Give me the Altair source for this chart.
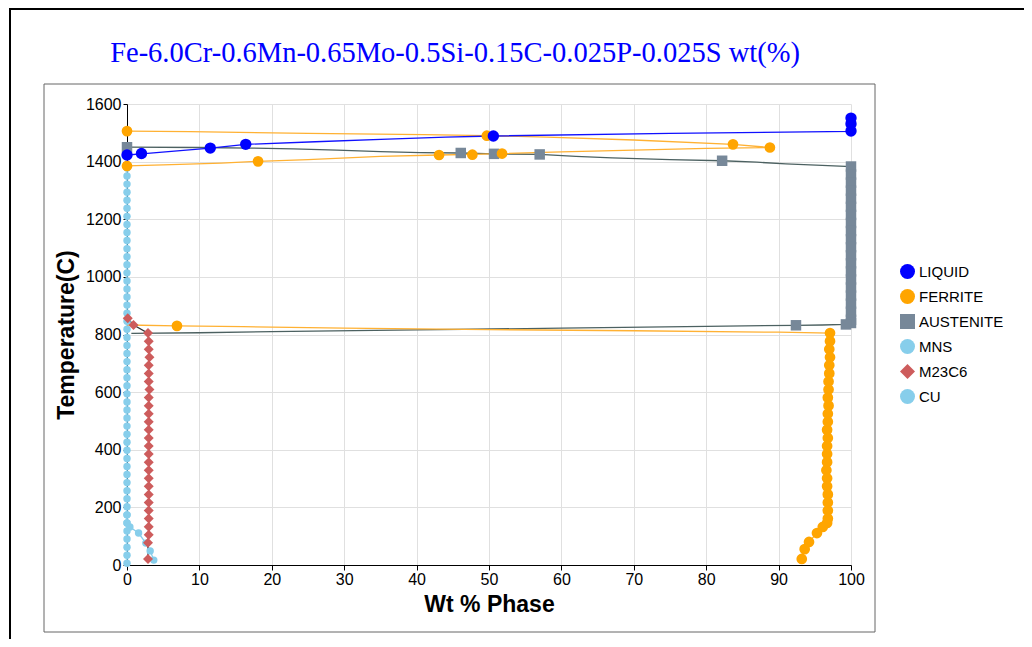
import altair as alt
import pandas as pd

TITLE = "Fe-6.0Cr-0.6Mn-0.65Mo-0.5Si-0.15C-0.025P-0.025S wt(%)"
X_TITLE = "Wt % Phase"
Y_TITLE = "Temperature(C)"

PHASES = ["LIQUID", "FERRITE", "AUSTENITE", "MNS", "M23C6", "CU"]
MARKER_COLORS = ["#0000FF", "#FFA500", "#778899", "#87CEEB", "#CD5C5C", "#87CEEB"]
MARKER_SHAPES = ["circle", "circle", "square", "circle", "diamond", "circle"]
LINE_COLORS = {"LIQUID": "#1010FF", "FERRITE": "#FFB133", "AUSTENITE": "#4C6161",
               "MNS": "#87CEEB", "M23C6": "#333333", "CU": "#87CEEB"}
MARKER_SIZES = {"LIQUID": 130, "FERRITE": 115, "AUSTENITE": 110,
                "MNS": 55, "M23C6": 100, "CU": 55}

X_TICKS = [0, 5, 10, 15, 20, 25, 30, 35, 40, 45, 50, 55, 60, 65, 70, 75, 80, 85, 90, 95, 100]
Y_TICKS = [0, 100, 200, 300, 400, 500, 600, 700, 800, 900, 1000, 1100, 1200,
           1300, 1400, 1500, 1600]

# ---------------- LIQUID ----------------
LIQ_X = [100, 100, 100, 75, 50.6, 44, 36, 26, 16.4, 11.5, 2.0, 0]
LIQ_T = [1551, 1531, 1505, 1498, 1489, 1485, 1478, 1469, 1460, 1447, 1427, 1423]
LIQ_MX = [100, 100, 100, 50.6, 16.4, 11.5, 2.0, 0]
LIQ_MT = [1551, 1531, 1506, 1489, 1460, 1447, 1428, 1423]

# ---------------- FERRITE ----------------
FER_A_X = [0, 8.7, 25, 41, 49.7, 58, 70, 83.7, 88.8, 80, 70, 60, 51.8, 47.7, 43.1,
           35, 25, 18.1, 13, 5, 0]
FER_A_T = [1506, 1504, 1498, 1494, 1490, 1485, 1475, 1460, 1449, 1446, 1440, 1434,
           1428, 1425, 1423, 1418, 1407, 1401, 1395, 1389, 1385]
FER_A_MX = [0, 49.7, 83.7, 88.8, 51.8, 47.7, 43.1, 18.1, 0]
FER_A_MT = [1506, 1490, 1460, 1449, 1428, 1424, 1423, 1401, 1385]
FER_B_X = [0, 6.9, 16, 30, 50, 70, 90, 97.1,
           97.1, 97.0, 97.1, 97.0, 97.0, 96.9, 96.9, 96.8, 96.9, 96.8, 96.8, 96.7,
           96.8, 96.7, 96.7, 96.7, 96.6, 96.7, 96.7, 96.8, 96.8, 96.8, 96.8, 96.7,
           96.1, 95.3, 94.2, 93.6, 93.2]
FER_B_T = [833, 830, 827, 822, 817, 813, 808, 805,
           777, 749, 721, 693, 665, 637, 609, 581, 553, 525, 497, 469,
           441, 413, 385, 357, 329, 301, 273, 245, 217, 189, 161, 146,
           132, 111, 80, 55, 21]
FER_B_MX = [6.9, 97.1,
            97.1, 97.0, 97.1, 97.0, 97.0, 96.9, 96.9, 96.8, 96.9, 96.8, 96.8, 96.7,
            96.8, 96.7, 96.7, 96.7, 96.6, 96.7, 96.7, 96.8, 96.8, 96.8, 96.8, 96.7,
            96.1, 95.3, 94.2, 93.6, 93.2]
FER_B_MT = [830, 805,
            777, 749, 721, 693, 665, 637, 609, 581, 553, 525, 497, 469,
            441, 413, 385, 357, 329, 301, 273, 245, 217, 189, 161, 146,
            132, 111, 80, 55, 21]

# ---------------- AUSTENITE ----------------
AUS_HI_X = [0, 10, 17, 23, 29, 35, 40.5, 46.1, 50.7, 57, 62, 67, 75, 82.2, 87, 91, 96, 100]
AUS_HI_T = [1450, 1449, 1447, 1444, 1440, 1435, 1431, 1430, 1427, 1425, 1418, 1413,
            1407, 1403, 1398, 1392, 1387, 1383]
AUS_BAR_T = [1383, 1355, 1327, 1299, 1271, 1243, 1215, 1187, 1159, 1131, 1103, 1075,
             1047, 1019, 991, 963, 935, 907, 879, 851, 840]
AUS_BAR_X = [100, 100, 100, 100, 100, 100, 100, 100, 100, 100, 100, 100,
             100, 100, 100, 100, 100, 100, 100, 100, 100]
AUS_LO_X = [99.3, 96, 92.4, 80, 60, 40, 20, 10, 0.6]
AUS_LO_T = [835, 833, 832, 828, 822, 816, 810, 806, 804]
AUS_MX = [0, 46.1, 50.7, 57, 82.2]
AUS_MT = [1450, 1430, 1427, 1425, 1403]
AUS_LO_MX = [99.3, 92.4]
AUS_LO_MT = [835, 832]

# ---------------- MNS ----------------
MNS_T = [1378, 1350, 1322, 1294, 1266, 1238, 1210, 1182, 1154, 1126, 1098, 1070,
         1042, 1014, 986, 958, 930, 902, 874, 846, 818, 790, 762, 734, 706, 678,
         650, 622, 594, 566, 538, 510, 482, 454, 426, 398, 370, 342, 314, 286,
         258, 230, 202, 174, 146, 118, 90, 62, 34, 6]
MNS_X = [0, 0, 0, 0, 0, 0, 0, 0, 0, 0, 0, 0, 0, 0, 0, 0, 0, 0, 0, 0, 0, 0, 0, 0, 0,
         0, 0, 0, 0, 0, 0, 0, 0, 0, 0, 0, 0, 0, 0, 0, 0, 0, 0, 0, 0, 0, 0, 0, 0, 0]

# ---------------- M23C6 ----------------
M23_X = [0.1, 0.9, 2.9, 3.0, 3.0, 3.1, 3.0, 3.0, 3.0, 3.1, 3.0, 3.0, 3.0, 3.0, 3.0,
         3.0, 3.0, 3.0, 3.0, 3.0, 3.0, 3.0, 3.0, 3.0, 3.0, 3.0, 3.0, 3.0, 2.9, 2.9]
M23_T = [856, 833, 805, 777, 749, 721, 693, 665, 637, 609, 581, 553, 525, 497, 469,
         441, 413, 385, 357, 329, 301, 273, 245, 217, 189, 161, 133, 105, 77, 21]

# ---------------- CU ----------------
CU_X = [0, 0, 0.4, 1.6, 2.6, 3.2, 3.7]
CU_T = [174, 146, 132, 111, 76, 49, 17]

# -------- build tables --------
line_rows = []
mark_rows = []


def add_line(phase, seg, xs, ts):
    assert len(xs) == len(ts)
    for i, (xv, tv) in enumerate(zip(xs, ts)):
        line_rows.append({"phase": phase, "seg": phase + seg, "idx": i, "x": xv,
                          "T": tv, "lc": LINE_COLORS[phase]})


def add_marks(phase, xs, ts):
    assert len(xs) == len(ts)
    for xv, tv in zip(xs, ts):
        mark_rows.append({"phase": phase, "x": xv, "T": tv, "ms": MARKER_SIZES[phase]})


add_line("MNS", "a", MNS_X, MNS_T)
add_line("CU", "a", CU_X, CU_T)
add_line("AUSTENITE", "a", AUS_HI_X + AUS_BAR_X + AUS_LO_X, AUS_HI_T + AUS_BAR_T + AUS_LO_T)
add_line("FERRITE", "a", FER_A_X, FER_A_T)
add_line("FERRITE", "b", FER_B_X, FER_B_T)
add_line("LIQUID", "a", LIQ_X, LIQ_T)
add_line("M23C6", "a", M23_X, M23_T)

add_marks("MNS", MNS_X, MNS_T)
add_marks("CU", CU_X, CU_T)
add_marks("AUSTENITE", AUS_MX + AUS_BAR_X + AUS_LO_MX, AUS_MT + AUS_BAR_T + AUS_LO_MT)
add_marks("FERRITE", FER_A_MX, FER_A_MT)
add_marks("FERRITE", FER_B_MX, FER_B_MT)
add_marks("M23C6", M23_X, M23_T)
add_marks("LIQUID", LIQ_MX, LIQ_MT)

lines_df = pd.DataFrame(line_rows)
marks_df = pd.DataFrame(mark_rows)
one = pd.DataFrame({"t": [TITLE]})

FONT = "Liberation Sans"
xscale = alt.Scale(domain=[0, 100], nice=False, zero=False)
yscale = alt.Scale(domain=[0, 1600], nice=False, zero=False)

x_axis = alt.Axis(
    values=X_TICKS, format="d",
    labelExpr="datum.value % 10 === 0 ? datum.label : ''",
    gridOpacity={"condition": {"test": "datum.value % 10 === 0", "value": 1}, "value": 0},
    tickSize=5, labelPadding=1, labelFont=FONT, labelFontSize=16, labelColor="black",
    titleFont=FONT, titleFontSize=23, titleFontWeight="bold", titleColor="black",
    titlePadding=6, labelFlush=False, labelOverlap=False,
)
y_axis = alt.Axis(
    values=Y_TICKS, format="d",
    labelExpr="datum.value % 200 === 0 ? datum.label : ''",
    gridOpacity={"condition": {"test": "datum.value % 200 === 0", "value": 1}, "value": 0},
    tickSize=4, labelPadding=2, labelFont=FONT, labelFontSize=16, labelColor="black",
    titleFont=FONT, titleFontSize=23, titleFontWeight="bold", titleColor="black",
    titlePadding=7, labelFlush=False, labelOverlap=False,
)

legend = alt.Legend(
    title=None, orient="none", legendX=773, legendY=160, symbolSize=225,
    labelFont=FONT, labelFontSize=15, labelColor="black", rowPadding=9,
    labelOffset=4, padding=0, symbolStrokeWidth=0,
)

lines = alt.Chart(lines_df).mark_line(strokeWidth=1.3).encode(
    x=alt.X("x:Q", scale=xscale, axis=x_axis, title=X_TITLE),
    y=alt.Y("T:Q", scale=yscale, axis=y_axis, title=Y_TITLE),
    detail="seg:N",
    order="idx:Q",
    color=alt.Color("lc:N", scale=None),
)

points = alt.Chart(marks_df).mark_point(filled=True, opacity=1, strokeWidth=0).encode(
    x=alt.X("x:Q", scale=xscale),
    y=alt.Y("T:Q", scale=yscale),
    color=alt.Color("phase:N", scale=alt.Scale(domain=PHASES, range=MARKER_COLORS),
                    legend=legend, sort=PHASES),
    shape=alt.Shape("phase:N", scale=alt.Scale(domain=PHASES, range=MARKER_SHAPES),
                    legend=legend, sort=PHASES),
    size=alt.Size("ms:Q", scale=None),
)

title = alt.Chart(one).mark_text(
    font="Liberation Serif", fontSize=28.5, color="#0000FF", align="center",
    baseline="alphabetic",
).encode(x=alt.value(328), y=alt.value(-42), text="t:N")

outer = alt.Chart(one).mark_rect(fillOpacity=0, stroke="black", strokeWidth=2).encode(
    x=alt.value(-117), x2=alt.value(920), y=alt.value(-95), y2=alt.value(560)
)
inner = alt.Chart(one).mark_rect(fillOpacity=0, stroke="#666666", strokeWidth=1).encode(
    x=alt.value(-83), x2=alt.value(748), y=alt.value(-20), y2=alt.value(528)
)

chart = alt.layer(outer, inner, lines, points, title).properties(
    width=724, height=461,
    padding={"left": 119, "top": 96, "right": 173, "bottom": 74},
    autosize=alt.AutoSizeParams(type="none"),
).configure_view(stroke=None).configure_axis(
    domainColor="black", tickColor="black", gridColor="#e0e0e0", domainWidth=1,
)

chart.save("out.html", embed_options={"renderer": "svg", "actions": False})
